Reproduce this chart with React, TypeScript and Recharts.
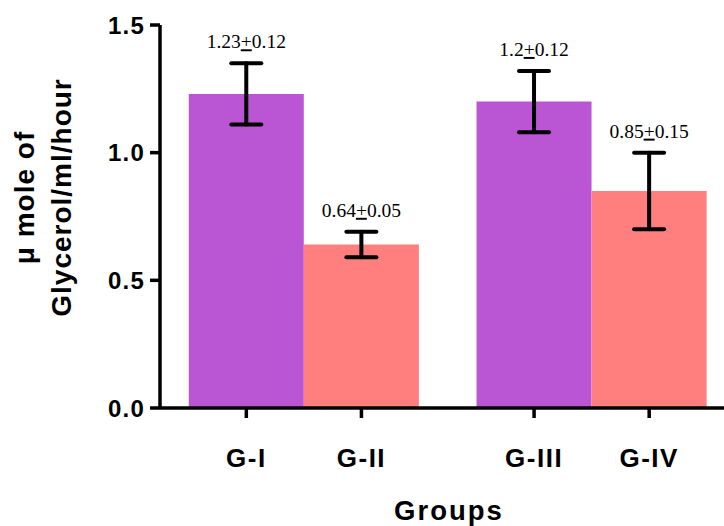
import React from 'react';
import { BarChart, Bar, XAxis, YAxis, ErrorBar, Cell, LabelList } from 'recharts';

const categories = ['G-I', 'G-II', 'G-III', 'G-IV'];
const groupOf = [0, 0, 1, 1];
const means = [1.23, 0.64, 1.2, 0.85];
const sems = [0.12, 0.05, 0.12, 0.15];
const yTicks = [0, 0.5, 1.0, 1.5];
const xAxisTitle = 'Groups';
const yAxisTitleLines = ['\u03bc mole of', 'Glycerol/ml/hour'];
const barColors = ['#BA55D3', '#FF7F7F', '#BA55D3', '#FF7F7F'];

const GROUP_GAP = 0.5;
const data = categories.map((name, i) => ({
  name,
  pos: i + groupOf[i] * GROUP_GAP,
  mean: means[i],
  sem: sems[i],
}));
const positions = data.map((d) => d.pos);

const SANS = "'Liberation Sans', Arial, Helvetica, sans-serif";
const SERIF = "'Liberation Serif', 'Times New Roman', serif";

const YTick = (props: any) => {
  const { x, y, payload } = props;
  return (
    <text x={x} y={y} dy={8.5} textAnchor="end" fill="#000" fontFamily={SANS} fontWeight={700} fontSize={24} letterSpacing={1.2}>
      {Number(payload.value).toFixed(1)}
    </text>
  );
};

const XTick = (props: any) => {
  const { x, y, payload } = props;
  const idx = positions.indexOf(payload.value);
  return (
    <text x={x} y={y} dy={18.5} textAnchor="middle" fill="#000" fontFamily={SANS} fontWeight={700} fontSize={26} letterSpacing={1.5}>
      {idx >= 0 ? categories[idx] : ''}
    </text>
  );
};

const ValueLabel = (props: any) => {
  const { x, y, width, height, index } = props;
  const v = means[index];
  const e = sems[index];
  const pxPerUnit = height / v;
  const top = y - e * pxPerUnit;
  return (
    <text x={x + width / 2} y={top - 15} textAnchor="middle" fill="#000" fontFamily={SERIF} fontSize={19.5}>
      <tspan>{String(v)}</tspan>
      <tspan style={{ textDecoration: 'underline' }}>+</tspan>
      <tspan>{String(e)}</tspan>
    </text>
  );
};

const YTitle = (props: any) => {
  const vb = props.viewBox || { x: 0, y: 25, width: 160, height: 383 };
  const cy = vb.y + vb.height / 2 - 19;
  const xs = [34, 71];
  return (
    <g>
      {yAxisTitleLines.map((line, i) => (
        <text
          key={i}
          x={xs[i]}
          y={cy}
          transform={`rotate(-90, ${xs[i]}, ${cy})`}
          textAnchor="middle"
          fill="#000"
          fontFamily={SANS}
          fontWeight={700}
          fontSize={28}
          letterSpacing={1}
        >
          {line}
        </text>
      ))}
    </g>
  );
};

const XTitle = (props: any) => {
  const vb = props.viewBox || { x: 160, y: 408, width: 564, height: 118 };
  return (
    <text x={vb.x + vb.width / 2 + 7} y={vb.y + 112} textAnchor="middle" fill="#000" fontFamily={SANS} fontWeight={700} fontSize={27.5} letterSpacing={2}>
      {xAxisTitle}
    </text>
  );
};

export default function App() {
  return (
    <div style={{ position: 'absolute', left: 0, top: 0, width: 724, height: 526, background: '#fff' }}>
      <BarChart width={724} height={526} data={data} margin={{ top: 25, right: 0, bottom: 0, left: 0 }}>
        <XAxis
          type="number"
          dataKey="pos"
          domain={[-0.75, 4.15]}
          ticks={positions}
          interval={0}
          height={118}
          tickSize={10}
          tickMargin={30}
          axisLine={{ stroke: '#000', strokeWidth: 3.5 }}
          tickLine={{ stroke: '#000', strokeWidth: 3.5 }}
          tick={<XTick />}
          label={<XTitle />}
        />
        <YAxis
          type="number"
          domain={[0, 1.5]}
          ticks={yTicks}
          interval={0}
          width={160}
          tickSize={10}
          tickMargin={5}
          axisLine={{ stroke: '#000', strokeWidth: 3.5 }}
          tickLine={{ stroke: '#000', strokeWidth: 3.5 }}
          tick={<YTick />}
          label={<YTitle />}
        />
        <Bar dataKey="mean" barSize={115} isAnimationActive={false}>
          {data.map((d, i) => (
            <Cell key={d.name} fill={barColors[i]} />
          ))}
          <ErrorBar dataKey="sem" direction="y" width={15} stroke="#000" strokeWidth={4} strokeLinecap="round" isAnimationActive={false} />
          <LabelList dataKey="mean" content={<ValueLabel />} />
        </Bar>
      </BarChart>
    </div>
  );
}
